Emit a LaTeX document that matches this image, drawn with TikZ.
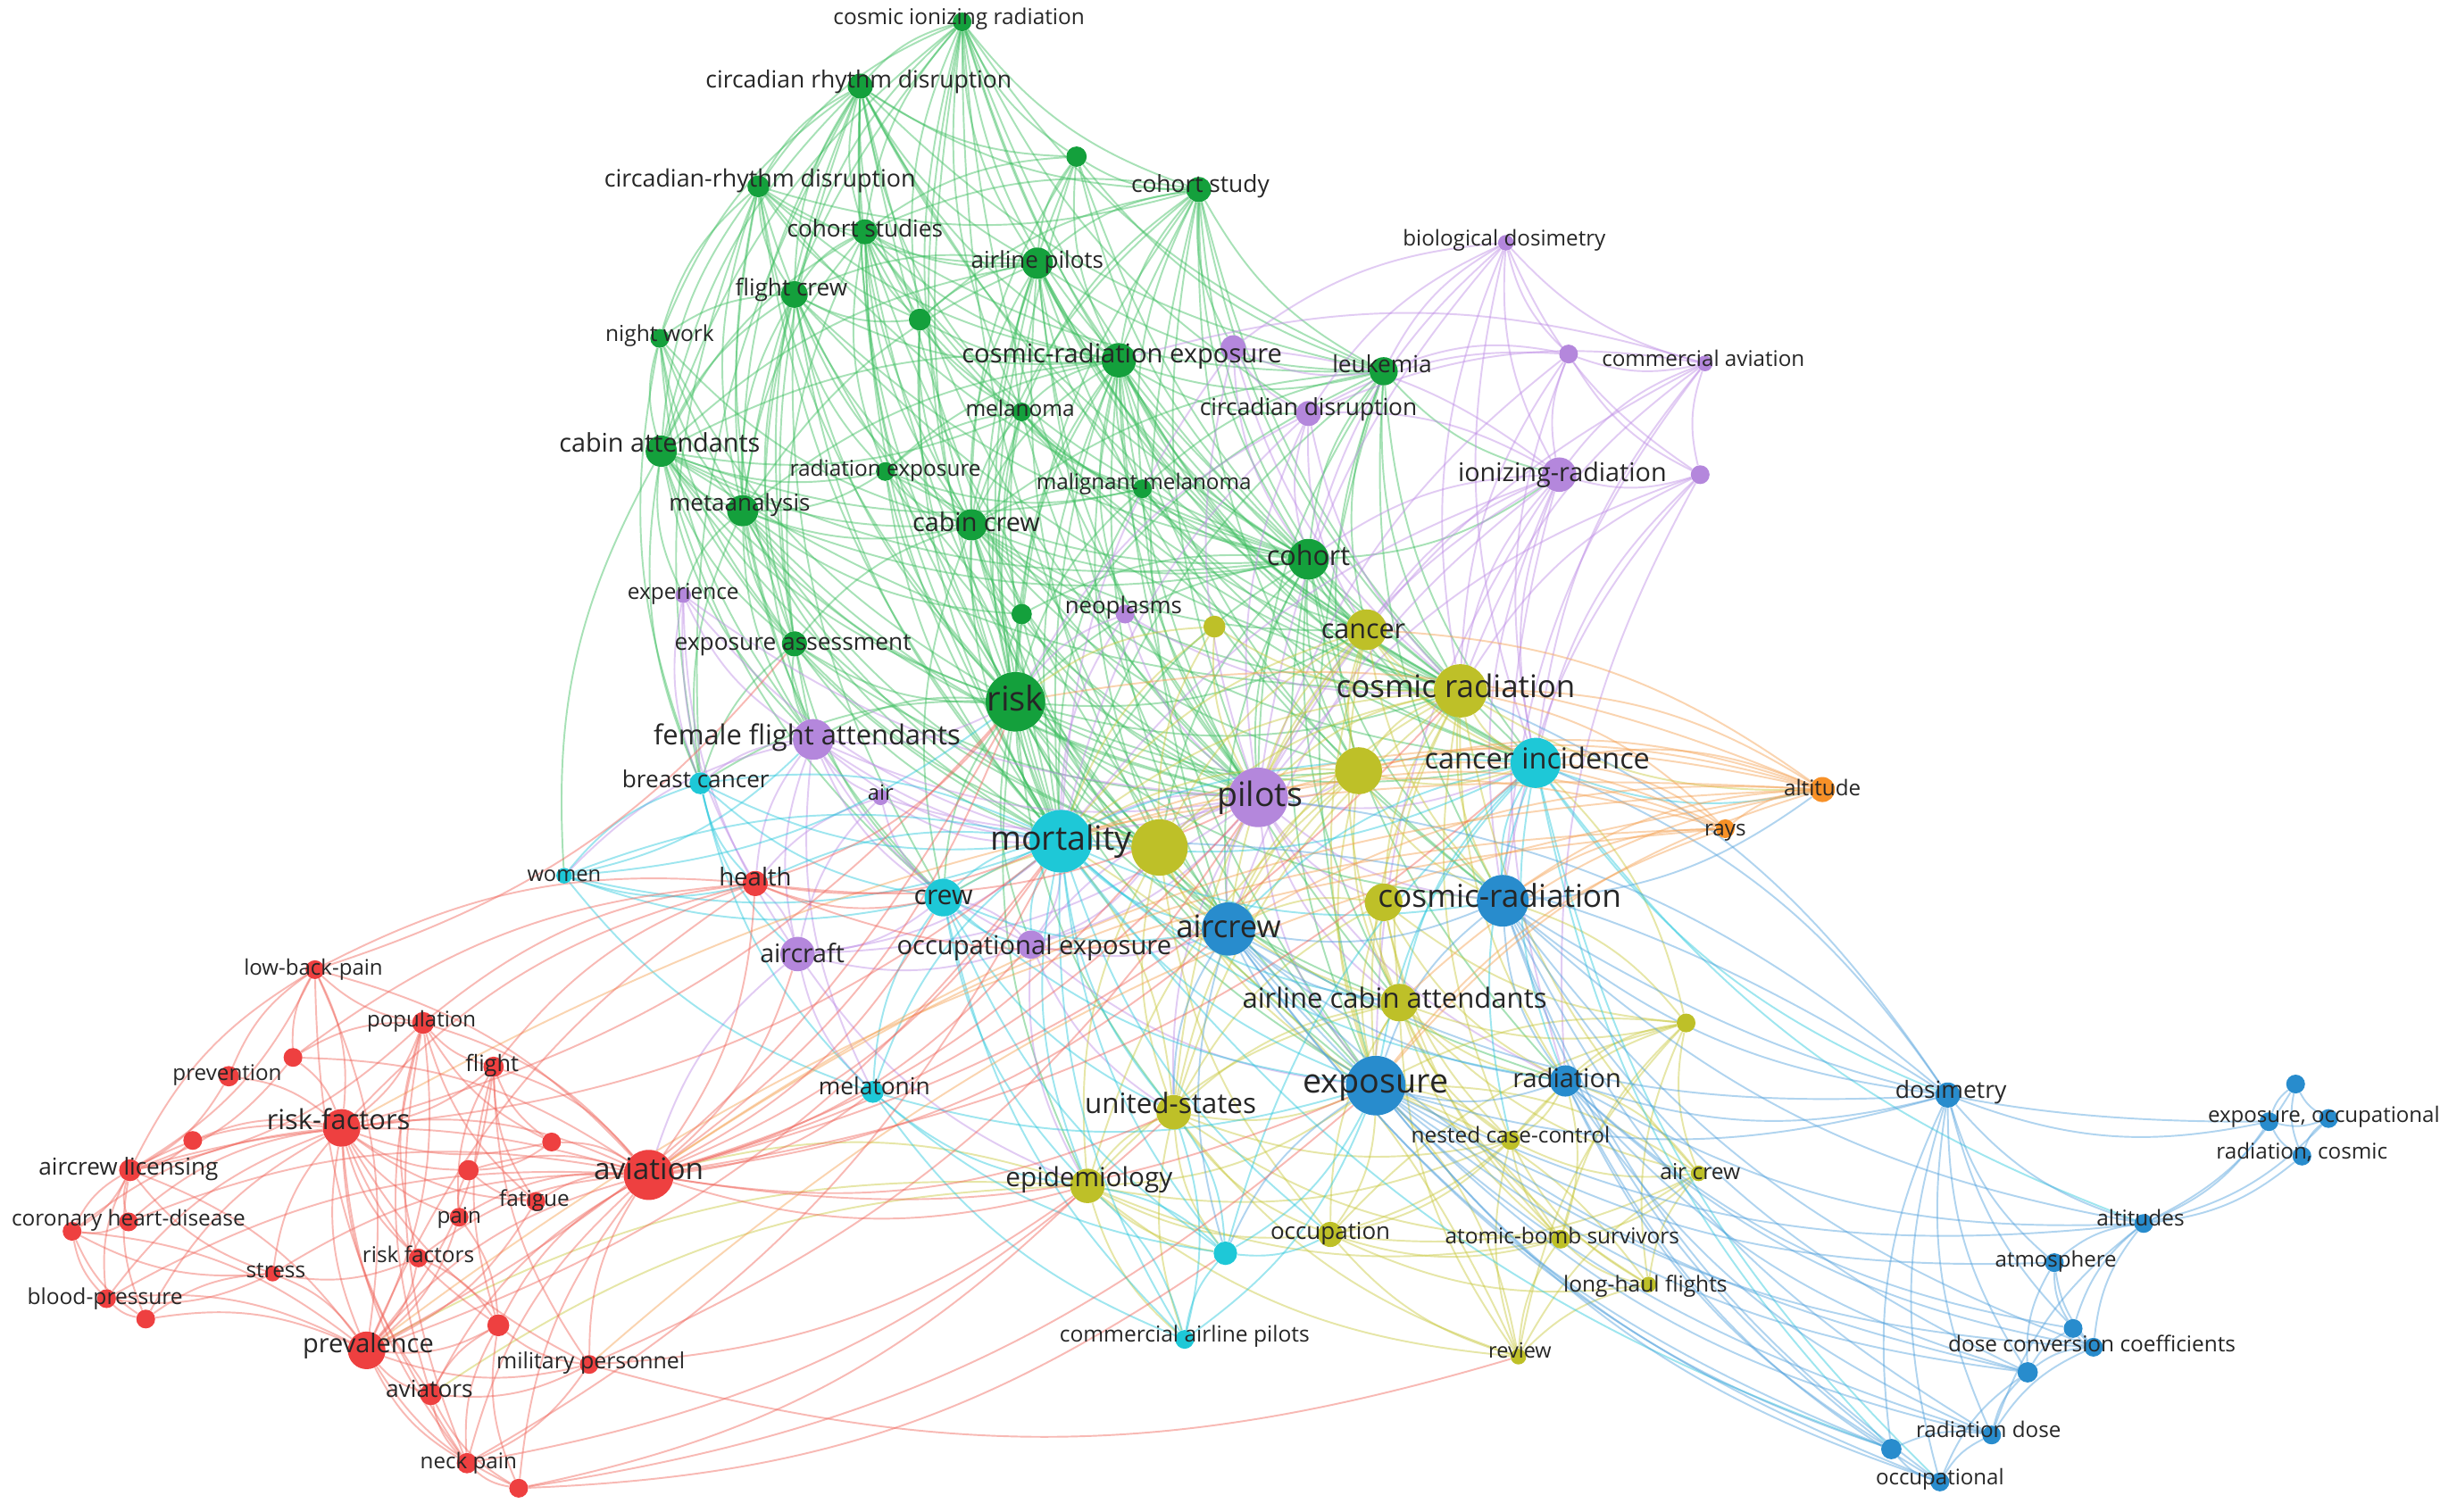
\documentclass[tikz,border=0pt]{standalone}
\usepackage{fontspec}
\setmainfont{Open Sans}
\pgfdeclarelayer{edgelayer}
\pgfsetlayers{edgelayer,main}
\definecolor{cgreen}{RGB}{20,160,60}
\definecolor{cpurple}{RGB}{180,135,220}
\definecolor{cyellow}{RGB}{190,192,40}
\definecolor{ccyan}{RGB}{30,200,215}
\definecolor{cblue}{RGB}{40,140,205}
\definecolor{corange}{RGB}{247,145,40}
\definecolor{cred}{RGB}{238,64,64}
\definecolor{egreen}{RGB}{60,190,95}
\definecolor{epurple}{RGB}{190,140,230}
\definecolor{eyellow}{RGB}{200,200,60}
\definecolor{ecyan}{RGB}{40,200,220}
\definecolor{eblue}{RGB}{80,160,220}
\definecolor{eorange}{RGB}{245,160,80}
\definecolor{ered}{RGB}{240,100,90}
\definecolor{labc}{RGB}{38,38,38}
\tikzset{
  kn/.style={circle, inner sep=0pt, draw=none},
  kl/.style={inner sep=0pt, text=labc, anchor=base},
  edgebase/.style={line width=1.1pt, draw opacity=0.45},
  eg/.style={edgebase, draw=egreen},
  ep/.style={edgebase, draw=epurple},
  ey/.style={edgebase, draw=eyellow},
  ec/.style={edgebase, draw=ecyan},
  eb/.style={edgebase, draw=eblue},
  eo/.style={edgebase, draw=eorange},
  er/.style={edgebase, draw=ered},
}
\newcommand\kn[5]{\node[kn, fill=#5, minimum size=#4pt] (#1) at (#2,#3) {};}
\newcommand\kl[5]{\node[kl, font=\fontsize{#4}{#4}\selectfont, yshift={-0.27*#4pt}] (#1) at (#2,#3) {#5};}
\newcommand\ed[3]{\foreach \nb in {#3}{\draw[#1] (#2) to[bend right=16] (\nb);}}
\begin{document}
\begin{tikzpicture}[x=1pt,y=-1pt]
\begin{pgfonlayer}{edgelayer}
\fill[white] (0,0) rectangle (1568,965);
\end{pgfonlayer}
\useasboundingbox (0,0) rectangle (1568,965);
% ---------- nodes: green
\kn{gcir}{614}{14}{12}{cgreen}
\kn{gcrd}{549}{55}{16}{cgreen}
\kn{gu1}{687}{100}{13}{cgreen}
\kn{gcrdb}{484}{119}{14}{cgreen}
\kn{gcst}{765}{121}{16}{cgreen}
\kn{gcs}{552}{148}{16}{cgreen}
\kn{gap}{662}{168}{20}{cgreen}
\kn{gfc}{507}{188}{17}{cgreen}
\kn{gu2}{587}{204}{14}{cgreen}
\kn{gnw}{421}{216}{12}{cgreen}
\kn{gcre}{714}{230}{22}{cgreen}
\kn{gleu}{883}{237}{18}{cgreen}
\kn{gmel}{652}{263}{12}{cgreen}
\kn{gca}{422}{288}{20}{cgreen}
\kn{gre}{565}{301}{12}{cgreen}
\kn{gmm}{729}{312}{12}{cgreen}
\kn{gma}{474}{326}{20}{cgreen}
\kn{gcc}{620}{335}{20}{cgreen}
\kn{gcoh}{835}{357}{26}{cgreen}
\kn{gu3}{652}{392}{13}{cgreen}
\kn{gea}{507}{411}{16}{cgreen}
\kn{grisk}{648}{448}{38}{cgreen}
% purple
\kn{pbd}{961}{155}{10}{cpurple}
\kn{pexp}{787}{222}{16}{cpurple}
\kn{pu1}{1001}{226}{12}{cpurple}
\kn{pca}{1088}{232}{10}{cpurple}
\kn{pcd}{835}{264}{16}{cpurple}
\kn{pir}{995}{303}{22}{cpurple}
\kn{pu2}{1085}{303}{12}{cpurple}
\kn{pexpe}{436}{380}{10}{cpurple}
\kn{pneo}{718}{392}{12}{cpurple}
\kn{pffa}{519}{472}{26}{cpurple}
\kn{pair}{562}{509}{10}{cpurple}
\kn{ppil}{803}{509}{38}{cpurple}
\kn{pacft}{509}{609}{22}{cpurple}
\kn{poe}{658}{603}{18}{cpurple}
% yellow
\kn{yu1}{775}{400}{14}{cyellow}
\kn{ycan}{872}{402}{26}{cyellow}
\kn{ycr}{932}{441}{34}{cyellow}
\kn{yu2}{867}{492}{30}{cyellow}
\kn{yu3}{740}{541}{36}{cyellow}
\kn{ycr2}{883}{576}{24}{cyellow}
\kn{yaca}{893}{640}{24}{cyellow}
\kn{yu4}{1076}{653}{12}{cyellow}
\kn{yus}{749}{710}{22}{cyellow}
\kn{yepi}{694}{757}{22}{cyellow}
\kn{yocc}{849}{788}{16}{cyellow}
\kn{yncc}{964}{728}{12}{cyellow}
\kn{yac}{1084}{749}{10}{cyellow}
\kn{yabs}{996}{791}{12}{cyellow}
\kn{ylhf}{1052}{820}{10}{cyellow}
\kn{yrev}{969}{866}{10}{cyellow}
% cyan
\kn{cmort}{677}{537}{40}{ccyan}
\kn{cci}{980}{487}{32}{ccyan}
\kn{cbc}{447}{500}{14}{ccyan}
\kn{cwom}{360}{559}{10}{ccyan}
\kn{ccrew}{602}{573}{24}{ccyan}
\kn{cmela}{557}{697}{14}{ccyan}
\kn{cu1}{782}{800}{15}{ccyan}
\kn{ccap}{756}{855}{12}{ccyan}
% blue
\kn{bacw}{784}{593}{34}{cblue}
\kn{bcr}{959}{575}{33}{cblue}
\kn{bexp}{878}{693}{38}{cblue}
\kn{brad}{999}{690}{20}{cblue}
\kn{bdos}{1243}{699}{16}{cblue}
\kn{bu1}{1465}{692}{12}{cblue}
\kn{beo1}{1448}{716}{12}{cblue}
\kn{beo2}{1486}{714}{12}{cblue}
\kn{brc}{1469}{738}{12}{cblue}
\kn{balt}{1368}{781}{12}{cblue}
\kn{batm}{1311}{806}{12}{cblue}
\kn{bu2}{1323}{848}{12}{cblue}
\kn{bdcc}{1336}{860}{12}{cblue}
\kn{bu3}{1294}{876}{13}{cblue}
\kn{brd}{1271}{916}{12}{cblue}
\kn{bu4}{1207}{925}{13}{cblue}
\kn{bocc}{1238}{946}{12}{cblue}
% orange
\kn{oalt}{1163}{504}{16}{corange}
\kn{orays}{1101}{529}{12}{corange}
% red
\kn{rhe}{482}{564}{16}{cred}
\kn{rlbp}{201}{619}{12}{cred}
\kn{rpop}{270}{653}{14}{cred}
\kn{ru1}{187}{675}{12}{cred}
\kn{rprev}{146}{687}{13}{cred}
\kn{rfl}{315}{681}{13}{cred}
\kn{rrf}{218}{720}{24}{cred}
\kn{ru2}{123}{728}{12}{cred}
\kn{ru3}{352}{729}{12}{cred}
\kn{racl}{83}{747}{14}{cred}
\kn{ru4}{299}{747}{13}{cred}
\kn{rav}{414}{750}{32}{cred}
\kn{rfat}{342}{767}{12}{cred}
\kn{rpain}{293}{777}{12}{cred}
\kn{rchd1}{46}{786}{12}{cred}
\kn{rchd}{82}{780}{12}{cred}
\kn{rrf2}{267}{803}{12}{cred}
\kn{rstr}{174}{813}{10}{cred}
\kn{rbp}{68}{829}{12}{cred}
\kn{ru5}{93}{842}{12}{cred}
\kn{ru6}{318}{846}{14}{cred}
\kn{rprv}{234}{862}{24}{cred}
\kn{rmp}{376}{871}{12}{cred}
\kn{ravs}{275}{890}{14}{cred}
\kn{rnp}{298}{934}{13}{cred}
\kn{ru7}{331}{950}{12}{cred}
% ---------- edges
\begin{pgfonlayer}{edgelayer}
\ed{eg}{gcir}{gcrd,gcrdb,gcs,gap,gfc,gcre,gcst,gleu,gcoh,grisk,gcc,gca,gma,cmort,ycr,ppil,gmel,gu1,bacw,ycan,gu2,pcd}
\ed{eg}{gcrd}{gcrdb,gcs,gap,gfc,gcre,gcst,gu1,grisk,gca,gma,gcoh,gleu,cmort,gnw,gcc,ppil,ycr,gea,cbc,bexp,gu2,gmel,pffa}
\ed{eg}{gu1}{gcst,gap,gcre,gcoh,gleu,grisk,gcs,ycr,cmort,gcc}
\ed{eg}{gcrdb}{gcs,gfc,gnw,gca,gma,gea,grisk,gcc,gap,gcre,cmort,gcoh,pffa,cbc,gcst,gu2}
\ed{eg}{gcst}{gcs,gap,gcre,gleu,gcoh,grisk,gmel,gmm,ycan,ycr,cmort,ppil,cci,gcc,bacw,yu2,pexp,gu2}
\ed{eg}{gcs}{gap,gfc,gcre,gca,gma,grisk,gcc,gcoh,gmel,gre,cmort,ppil,gea,ycr,bacw,gleu,gu2}
\ed{eg}{gap}{gfc,gcre,gleu,gcoh,grisk,gcc,gmel,gmm,cmort,ppil,ycr,ycan,cci,bexp,gu2,bcr,yu3,gca,gma}
\ed{eg}{gfc}{gnw,gca,gma,gcre,grisk,gcc,gu2,gre,gea,cmort,ppil,gcoh,pffa,ccrew,ycr}
\ed{eg}{gu2}{gcre,grisk,gcc,gmel,cmort,gcoh}
\ed{eg}{gnw}{gca,gma,gea,grisk,cbc,pffa,gcc,cmort}
\ed{eg}{gcre}{gleu,gmel,gmm,gre,gcc,gcoh,grisk,cmort,ppil,ycan,ycr,cci,bacw,bexp,yu2,yu3,pneo,gu3,pcd,bcr,yaca,gca,gma}
\ed{eg}{gleu}{gcoh,grisk,cmort,ppil,ycan,ycr,cci,gmm,gcc,bexp,pir,bcr,yu2}
\ed{eg}{gmel}{gmm,gre,gcc,gcoh,grisk,cmort,ppil,ycr,gu3,cci}
\ed{eg}{gca}{gma,gre,gcc,gea,grisk,cmort,pffa,cbc,gcoh,ppil,ccrew,ycr,gmel,pexpe,yu3,gmm,cwom}
\ed{eg}{gre}{gcc,gmm,grisk,cmort,gcoh,ppil}
\ed{eg}{gmm}{gcc,gcoh,grisk,cmort,ppil,ycr,ycan,cci}
\ed{eg}{gma}{gcc,gea,grisk,cmort,pffa,cbc,gcoh,ppil,ccrew,yu3,gu3,pexpe,gre}
\ed{eg}{gcc}{gcoh,grisk,cmort,ppil,ycan,ycr,cci,gu3,bacw,ccrew,yu3,yu2,bexp,gea,pneo}
\ed{eg}{gcoh}{grisk,cmort,ppil,ycan,ycr,cci,yu2,yu3,bacw,bexp,bcr,pir,gu3,yaca,brad}
\ed{eg}{gu3}{grisk,cmort,ppil,yu3}
\ed{eg}{gea}{grisk,cmort,pffa,ccrew,cbc,ppil,yu3}
\ed{eg}{grisk}{cmort,ppil,yu3,yu2,ycan,ycr,cci,bacw,bexp,ccrew,pffa,poe,yaca,yus,yepi,bcr,brad,cbc}
\ed{ep}{pbd}{pir,pu1,pca,pu2,gleu,pcd,ycr,cci,gcoh,ppil,pexp}
\ed{ep}{pu1}{pca,pir,pu2,gleu,pcd,ycr,cci,ppil}
\ed{ep}{pca}{pir,pu2,pcd,ycr,cci,bcr,ppil,gcre}
\ed{ep}{pir}{pu2,pcd,ppil,ycr,cci,bcr,bexp,ycan,gcoh,cmort,brad,bacw,pexp}
\ed{ep}{pu2}{ppil,cci,ycr,bcr,brad}
\ed{ep}{pexp}{pcd,gleu,ppil,gcoh,cmort,ycr}
\ed{ep}{pcd}{ppil,cmort,gcoh,ycan,ycr,grisk}
\ed{ep}{pneo}{ppil,cmort,grisk,ycr}
\ed{ep}{pexpe}{pffa,cbc,rhe,pacft,cmort,ppil}
\ed{ep}{pffa}{cbc,pair,cmort,ppil,rhe,pacft,ccrew,poe,grisk,yu3,cwom,cmela}
\ed{ep}{pair}{cmort,ppil,pacft,rhe,ccrew}
\ed{ep}{ppil}{cmort,yu3,yu2,bacw,bexp,bcr,cci,yaca,poe,yus,brad,ycr2}
\ed{ep}{pacft}{rhe,ccrew,poe,cmort,rav,cmela,ppil,yepi}
\ed{ep}{poe}{cmort,ccrew,bacw,bexp,yus,yepi,ppil,yu3}
\ed{ey}{ycan}{ycr,yu2,yu3,cci,cmort,ppil,bexp,bacw,bcr,yaca,yus}
\ed{ey}{yu1}{yu3,cmort,ppil,ycr,grisk}
\ed{ey}{ycr}{yu2,yu3,cci,cmort,ppil,bacw,bexp,bcr,ycr2,yaca,yus,brad,oalt,yncc,yac}
\ed{ey}{yu2}{yu3,cmort,cci,bacw,bexp,bcr,yaca,yus,yepi}
\ed{ey}{yu3}{cmort,bacw,bexp,yus,yepi,yaca,ccrew,yocc}
\ed{ey}{ycr2}{bexp,bacw,yaca,yus,yncc,yabs,brad,yu4}
\ed{ey}{yaca}{bexp,yus,yepi,yocc,yncc,yabs,yac,ylhf,yrev,brad,yu4}
\ed{ey}{yu4}{bexp,brad,yncc,yac,yabs,ylhf,yrev,bcr,cci,yocc}
\ed{ey}{yus}{yepi,bexp,yocc,yncc,yabs,ccap,cu1,yrev,cmort}
\ed{ey}{yepi}{yocc,bexp,cu1,ccap,yabs,yncc,yrev,rav,rprv,ravs}
\ed{ey}{yocc}{bexp,yabs,yncc,yrev,ylhf,yac,brad}
\ed{ey}{yncc}{yabs,yrev,ylhf,yac,bexp,brad}
\ed{ey}{yabs}{yrev,ylhf,yac,bexp,brad}
\ed{ey}{yac}{ylhf,yrev,brad,bexp}
\ed{ey}{ylhf}{yrev,bexp}
\ed{ey}{yrev}{bexp,cmort}
\ed{ec}{cmort}{ccrew,cci,bacw,bexp,cbc,cmela,cu1,ccap,yus,yepi,yaca,bcr,cwom,poe,rhe,yocc,brad,bu4}
\ed{ec}{cci}{bcr,bexp,bacw,ccrew,cu1,brad,yaca,yncc,oalt,bdos,bocc,balt,bu4}
\ed{ec}{cbc}{cwom,ccrew,cmela,rhe,cmort,pacft}
\ed{ec}{cwom}{ccrew,cmela,rhe,pffa,grisk,cmort}
\ed{ec}{ccrew}{bacw,bexp,cmela,cu1,ccap,poe,yepi,yus}
\ed{ec}{cmela}{cu1,ccap,yepi,bexp}
\ed{ec}{cu1}{ccap,bexp,yepi,yus,yocc}
\ed{ec}{ccap}{bexp,yepi,yus}
\ed{eb}{bacw}{bexp,bcr,brad,bdos,yaca,yus,cu1,bu4,bocc,brd,bu3}
\ed{eb}{bcr}{bexp,brad,bdos,balt,bocc,brd,bu3,bdcc,beo1,oalt,bu4}
\ed{eb}{bexp}{brad,bdos,brd,bocc,bu4,bu3,bdcc,balt,cu1,batm}
\ed{eb}{brad}{bdos,brd,bocc,bu4,bu3,balt,bu2,bdcc}
\ed{eb}{bdos}{balt,brd,bocc,bu4,bu3,bdcc,batm,beo1,cmort,cci,ppil,ycr}
\ed{eb}{balt}{batm,bu2,bdcc,beo1,beo2,brc,bu1,brd}
\ed{eb}{batm}{bu2,bdcc,bu3}
\ed{eb}{bu2}{bdcc,bu3}
\ed{eb}{bdcc}{bu3,brd}
\ed{eb}{bu3}{brd,bocc}
\ed{eb}{brd}{bu4,bocc}
\ed{eb}{bu4}{bocc}
\ed{eb}{bu1}{beo1,beo2,brc}
\ed{eb}{beo1}{beo2,brc}
\ed{eb}{beo2}{brc}
\ed{eo}{oalt}{orays,ycr,cci,ppil,yu2,cmort,bcr,ycan,rav,bexp,bacw,grisk,yaca,rrf,rmp}
\ed{eo}{orays}{ycr,ppil,cmort,bcr,yu2,rav,bexp,cci,rprv}
\ed{er}{rav}{rhe,rrf,rprv,rpop,rfl,rfat,rpain,rrf2,rmp,ravs,rnp,ru3,ru4,ru6,ru7,rlbp,racl,rstr,cmort,grisk,ppil,bacw,bexp,ccrew,pacft,yepi,cmela,yus,ru1,rchd,rbp,poe,yu3,cci,ycr}
\ed{er}{rhe}{rrf,rpop,rfl,rprv,cmort,grisk,ppil,ccrew,bacw,rlbp,ru1}
\ed{er}{rrf}{rlbp,rpop,ru1,rprev,rfl,ru2,ru3,racl,ru4,rfat,rpain,rchd,rchd1,rrf2,rstr,rbp,ru5,rprv,rmp,ravs,rnp,ru6,cmort,grisk}
\ed{er}{rprv}{ravs,rnp,ru7,rmp,ru6,rrf2,rpain,rstr,rbp,ru5,racl,rchd1,rlbp,rpop,rfl,rfat,cmort,grisk}
\ed{er}{racl}{ru2,rprev,rchd,rchd1,rbp,ru5,rstr,rlbp,rpop,ru1}
\ed{er}{rlbp}{ru1,rpop,rprev,racl,rnp,gea}
\ed{er}{rpop}{rfl,ru1,ru3,rrf2,ravs,rnp,rfat}
\ed{er}{rfl}{ru3,rfat,rpain,ru6,rmp}
\ed{er}{ru6}{rmp,ravs,rnp,ru7,rrf2,rpain}
\ed{er}{ravs}{rnp,ru7,rmp}
\ed{er}{rnp}{ru7,rmp,yus,cmort}
\ed{er}{rchd1}{rchd,rbp,ru5,racl,rstr}
\ed{er}{rbp}{ru5,rstr}
\ed{er}{rstr}{ru5,rrf2}
\ed{er}{ru4}{rpain,rfat,ru3}
\ed{er}{ru7}{yepi,cu1,bexp}
\ed{er}{rmp}{yepi,ppil,yrev}
\end{pgfonlayer}
% ---------- labels
\kl{Lgcir}{612}{12}{13.9}{cosmic ionizing radiation}
\kl{Lgcrd}{548}{52}{15.1}{circadian rhythm disruption}
\kl{Lgcrdb}{485}{115}{15.3}{circadian-rhythm disruption}
\kl{Lgcst}{766}{119}{15}{cohort study}
\kl{Lgcs}{552}{147}{14.9}{cohort studies}
\kl{Lgap}{662}{167}{14.8}{airline pilots}
\kl{Lgfc}{505}{185}{14.9}{flight crew}
\kl{Lgnw}{421}{214}{14}{night work}
\kl{Lgcre}{716}{227}{16.6}{cosmic-radiation exposure}
\kl{Lgleu}{882}{234}{15}{leukemia}
\kl{Lgmel}{651}{262}{13.9}{melanoma}
\kl{Lgca}{421}{284}{16.4}{cabin attendants}
\kl{Lgre}{565}{300}{13.9}{radiation exposure}
\kl{Lgmm}{730}{309}{13.8}{malignant melanoma}
\kl{Lgma}{472}{322}{14.8}{metaanalysis}
\kl{Lgcc}{623}{335}{16.4}{cabin crew}
\kl{Lgcoh}{835}{356}{17.4}{cohort}
\kl{Lgea}{506}{411}{15}{exposure assessment}
\kl{Lgrisk}{648}{448}{21.7}{risk}
\kl{Lpbd}{960}{153}{13.8}{biological dosimetry}
\kl{Lpca}{1087}{230}{13.8}{commercial aviation}
\kl{Lpcd}{835}{261}{15}{circadian disruption}
\kl{Lpir}{997}{303}{16.4}{ionizing-radiation}
\kl{Lpexpe}{436}{379}{13.9}{experience}
\kl{Lpneo}{717}{388}{14.7}{neoplasms}
\kl{Lpffa}{515}{471}{17.6}{female flight attendants}
\kl{Lpair}{562}{507}{13.5}{air}
\kl{Lppil}{804}{509}{21.4}{pilots}
\kl{Lpacft}{512}{610}{16.3}{aircraft}
\kl{Lpoe}{660}{605}{16.6}{occupational exposure}
\kl{Lycan}{870}{403}{17.4}{cancer}
\kl{Lycr}{929}{440}{19.9}{cosmic radiation}
\kl{Lbcr}{957}{574}{20.1}{cosmic-radiation}
\kl{Lyaca}{890}{639}{17.7}{airline cabin attendants}
\kl{Lyus}{747}{706}{17.9}{united-states}
\kl{Lyepi}{695}{753}{16.9}{epidemiology}
\kl{Lyocc}{849}{787}{14.8}{occupation}
\kl{Lyncc}{964}{726}{13.9}{nested case-control}
\kl{Lyac}{1085}{749}{14}{air crew}
\kl{Lyabs}{997}{790}{13.9}{atomic-bomb survivors}
\kl{Lylhf}{1050}{821}{14}{long-haul flights}
\kl{Lyrev}{970}{863}{13.4}{review}
\kl{Lcmort}{677}{537}{21.4}{mortality}
\kl{Lcci}{981}{486}{18.5}{cancer incidence}
\kl{Lcbc}{444}{499}{14.9}{breast cancer}
\kl{Lcwom}{360}{559}{13.5}{women}
\kl{Lccrew}{602}{573}{17.2}{crew}
\kl{Lcmela}{558}{695}{15}{melatonin}
\kl{Lccap}{756}{853}{14}{commercial airline pilots}
\kl{Lbacw}{784}{593}{19.8}{aircrew}
\kl{Lbexp}{878}{692}{21.5}{exposure}
\kl{Lbrad}{1000}{690}{16.5}{radiation}
\kl{Lbdos}{1245}{697}{15.1}{dosimetry}
\kl{Lbeo}{1483}{713}{13.7}{exposure, occupational}
\kl{Lbrc}{1469}{736}{13.8}{radiation, cosmic}
\kl{Lbalt}{1366}{779}{13.9}{altitudes}
\kl{Lbatm}{1312}{805}{13.7}{atmosphere}
\kl{Lbdcc}{1335}{859}{13.9}{dose conversion coefficients}
\kl{Lbrd}{1269}{914}{13.8}{radiation dose}
\kl{Lbocc}{1238}{944}{13.7}{occupational}
\kl{Loalt}{1163}{504}{13.8}{altitude}
\kl{Lorays}{1101}{530}{13.8}{rays}
\kl{Lrhe}{482}{561}{15.7}{health}
\kl{Lrlbp}{200}{619}{13.7}{low-back-pain}
\kl{Lrpop}{269}{652}{13.7}{population}
\kl{Lrprev}{145}{686}{13.8}{prevention}
\kl{Lrfl}{314}{680}{14.4}{flight}
\kl{Lrrf}{216}{716}{17.6}{risk-factors}
\kl{Lracl}{82}{746}{14.9}{aircrew licensing}
\kl{Lrav}{414}{748}{19}{aviation}
\kl{Lrfat}{341}{766}{13.9}{fatigue}
\kl{Lrpain}{293}{777}{13.8}{pain}
\kl{Lrchd}{82}{779}{13.9}{coronary heart-disease}
\kl{Lrrf2}{267}{802}{13.9}{risk factors}
\kl{Lrstr}{176}{812}{13.9}{stress}
\kl{Lrbp}{67}{829}{14}{blood-pressure}
\kl{Lrprv}{235}{859}{16.5}{prevalence}
\kl{Lrmp}{377}{870}{14.2}{military personnel}
\kl{Lravs}{274}{888}{15}{aviators}
\kl{Lrnp}{299}{934}{13.8}{neck pain}
\end{tikzpicture}
\end{document}
